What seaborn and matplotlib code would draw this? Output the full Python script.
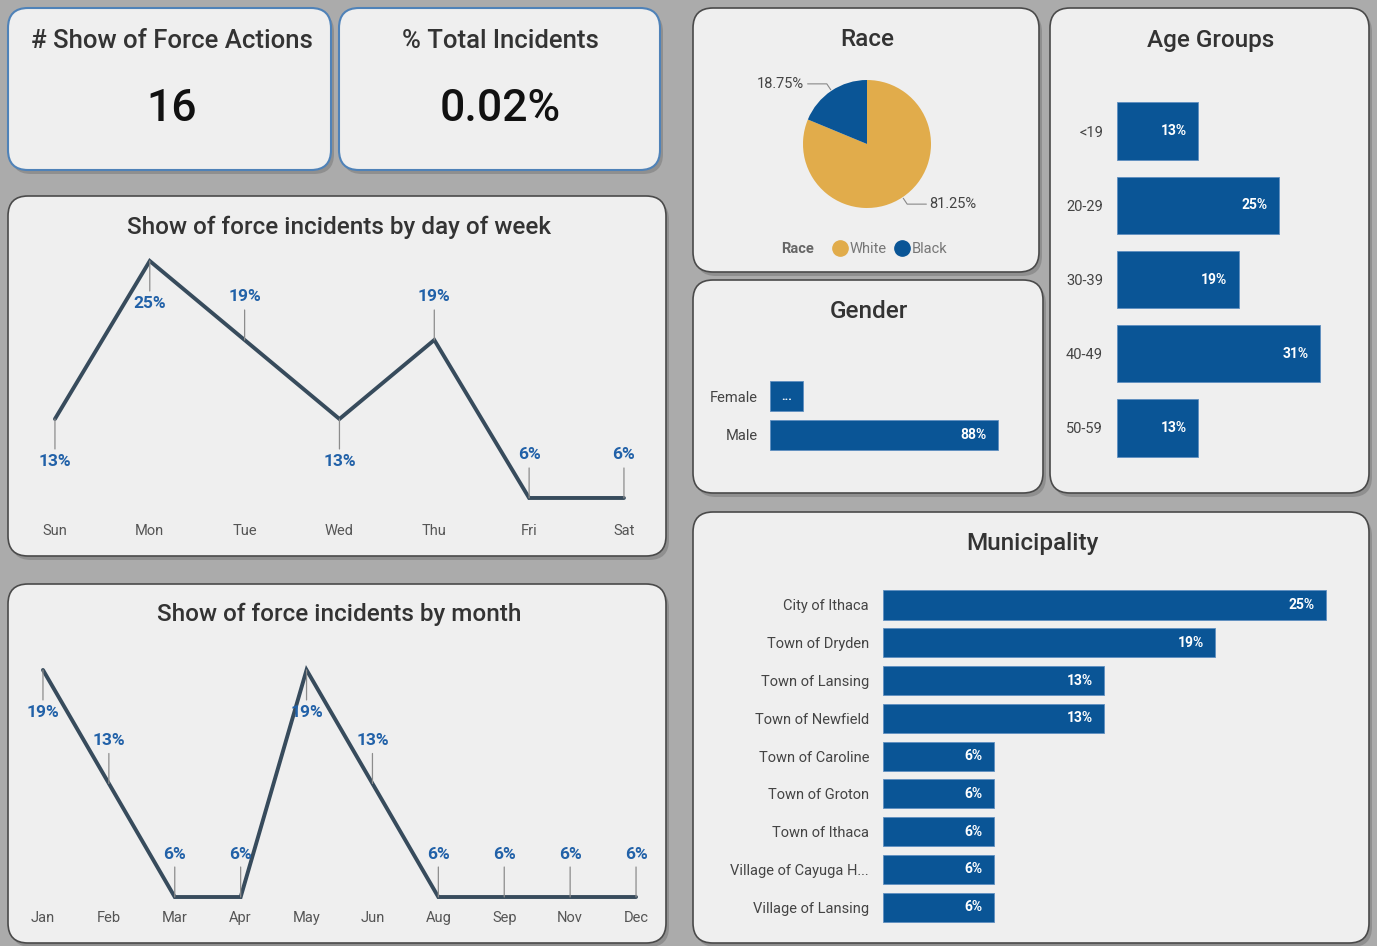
import numpy as np
import pandas as pd
import matplotlib
matplotlib.use("Agg")
import matplotlib.pyplot as plt
import seaborn as sns
from matplotlib.patches import FancyBboxPatch
from matplotlib.lines import Line2D

# ---- data (counts of show of force actions, 16 in total) ----
total_actions = 16
pct_total_incidents = "0.02%"

days = ["Sun", "Mon", "Tue", "Wed", "Thu", "Fri", "Sat"]
day_counts = [2, 4, 3, 2, 3, 1, 1]
day_label_side = ["below", "below", "above", "below", "above", "above", "above"]

months = ["Jan", "Feb", "Mar", "Apr", "May", "Jun", "Aug", "Sep", "Nov", "Dec"]
month_counts = [3, 2, 1, 1, 3, 2, 1, 1, 1, 1]
month_label_side = ["below", "above", "above", "above", "below",
                    "above", "above", "above", "above", "above"]

race = ["White", "Black"]
race_counts = [13, 3]

genders = ["Female", "Male"]
gender_counts = [2, 14]

age_groups = ["<19", "20-29", "30-39", "40-49", "50-59"]
age_counts = [2, 4, 3, 5, 2]

municipalities = ["City of Ithaca", "Town of Dryden", "Town of Lansing",
                  "Town of Newfield", "Town of Caroline", "Town of Groton",
                  "Town of Ithaca", "Village of Cayuga H...", "Village of Lansing"]
muni_counts = [4, 3, 2, 2, 1, 1, 1, 1, 1]

# ---- style ----
BG = "#ababab"
PANEL = "#efefef"
NAVY = "#0a5596"
GOLD = "#e1ac4b"
LINE = "#374b5c"
LBLUE = "#2161a8"
TITLE = "#333333"
TICK = "#555555"

sns.set_theme(style="white")
plt.rcParams["font.family"] = ["Roboto", "DejaVu Sans"]

W, H = 1377, 946
fig = plt.figure(figsize=(W / 100, H / 100), dpi=100)
fig.patch.set_facecolor(BG)


def rect(x0, y0, x1, y1):
    return [x0 / W, 1 - y1 / H, (x1 - x0) / W, (y1 - y0) / H]


def pct_of(counts):
    c = np.array(counts, dtype=float)
    return c / c.sum() * 100


def fmt(v):
    return "{}%".format(int(np.floor(v + 0.5)))


bg = fig.add_axes([0, 0, 1, 1])
bg.set_xlim(0, W)
bg.set_ylim(H, 0)
bg.axis("off")


def panel(x0, y0, x1, y1, edge="#4a4a4a", lw=1.2):
    bg.add_patch(FancyBboxPatch((x0 + 3, y0 + 4), x1 - x0, y1 - y0,
                                boxstyle="round,pad=0,rounding_size=20",
                                fc="#6e6e6e", ec="none", alpha=0.45))
    bg.add_patch(FancyBboxPatch((x0, y0), x1 - x0, y1 - y0,
                                boxstyle="round,pad=0,rounding_size=20",
                                fc=PANEL, ec=edge, lw=lw))


def title(x, y, s):
    bg.text(x, y, s, ha="center", va="center", fontsize=17.5, color=TITLE, fontweight="medium")


# panels
panel(8, 8, 331, 170, edge="#4f82b8", lw=1.5)
panel(339, 8, 660, 170, edge="#4f82b8", lw=1.5)
panel(8, 196, 666, 556)
panel(8, 584, 666, 943)
panel(693, 8, 1039, 272)
panel(693, 280, 1043, 493)
panel(1050, 8, 1369, 493)
panel(693, 512, 1369, 943)

# KPI cards
bg.text(172, 41, "# Show of Force Actions", ha="center", va="center", fontsize=18.5,
        color=TITLE, fontweight="medium")
bg.text(172, 109, str(total_actions), ha="center", va="center", fontsize=32,
        color="#111111", fontweight="medium")
bg.text(500, 41, "% Total Incidents", ha="center", va="center", fontsize=18.5,
        color=TITLE, fontweight="medium")
bg.text(500, 109, pct_total_incidents, ha="center", va="center", fontsize=32,
        color="#111111", fontweight="medium")

# titles
title(339, 227, "Show of force incidents by day of week")
title(339, 614, "Show of force incidents by month")
title(867, 40, "Race")
title(869, 311, "Gender")
title(1211, 40, "Age Groups")
title(1032, 543, "Municipality")


def line_panel(ax, cats, counts, sides, ylim):
    pct = pct_of(counts)
    df = pd.DataFrame({"cat": cats, "pct": pct})
    sns.lineplot(data=df, x="cat", y="pct", sort=False, color=LINE, lw=2.8,
                 solid_joinstyle="miter", ax=ax)
    for i, (v, s) in enumerate(zip(pct, sides)):
        d = 1 if s == "above" else -1
        ax.annotate("", xy=(i, v), xytext=(0, d * 30), textcoords="offset pixels",
                    arrowprops=dict(arrowstyle="-", color="#8c8c8c", lw=0.9,
                                    shrinkA=0, shrinkB=0))
        ax.annotate(fmt(v), xy=(i, v), xytext=(0, d * 43), textcoords="offset pixels",
                    ha="center", va="center", color=LBLUE, fontsize=12.5, fontweight="bold")
    ax.set_xlim(-0.3, len(cats) - 1 + 0.3)
    ax.set_ylim(*ylim)
    ax.set_facecolor("none")
    ax.set_yticks([])
    ax.set_xlabel("")
    ax.set_ylabel("")
    ax.tick_params(axis="x", length=0, pad=3, labelsize=10.5, labelcolor=TICK)
    sns.despine(ax=ax, left=True, bottom=True)


ax_day = fig.add_axes(rect(26.5, 235.7, 652.4, 520.1))
line_panel(ax_day, days, day_counts, day_label_side, (4.5, 27))

ax_mon = fig.add_axes(rect(23.2, 629.1, 655.8, 907))
line_panel(ax_mon, months, month_counts, month_label_side, (5.7, 21))


def bar_panel(ax, cats, counts, xmax, width, label_fs=10):
    pct = pct_of(counts)
    sns.barplot(x=pct, y=cats, orient="h", color=NAVY, saturation=1, width=width,
                edgecolor="#5f8fc0", linewidth=0.6, ax=ax)
    for i, v in enumerate(pct):
        ax.annotate(fmt(v), xy=(v, i), xytext=(-11, 0), textcoords="offset pixels",
                    ha="right", va="center", color="white", fontsize=label_fs,
                    fontweight="bold")
    ax.set_xlim(0, xmax)
    ax.set_ylim(len(cats) - 0.5, -0.5)
    ax.set_facecolor("none")
    ax.set_xticks([])
    ax.set_xlabel("")
    ax.set_ylabel("")
    ax.tick_params(axis="y", length=0, pad=10, labelsize=10.5, labelcolor="#444444")
    sns.despine(ax=ax, left=True, bottom=True)


# gender
ax_gen = fig.add_axes(rect(770, 376.5, 1030, 454.5))
gpct = pct_of(gender_counts)
sns.barplot(x=gpct, y=genders, orient="h", color=NAVY, saturation=1, width=0.77,
            edgecolor="#5f8fc0", linewidth=0.6, ax=ax_gen)
ax_gen.annotate("...", xy=(gpct[0] / 2, 0), ha="center", va="center",
                color="white", fontsize=9, fontweight="bold")
ax_gen.annotate(fmt(gpct[1]), xy=(gpct[1], 1), xytext=(-11, 0), textcoords="offset pixels",
                ha="right", va="center", color="white", fontsize=10, fontweight="bold")
ax_gen.set_xlim(0, 100)
ax_gen.set_ylim(1.5, -0.5)
ax_gen.set_facecolor("none")
ax_gen.set_xticks([])
ax_gen.set_xlabel("")
ax_gen.set_ylabel("")
ax_gen.tick_params(axis="y", length=0, pad=9, labelsize=10.5, labelcolor="#444444")
sns.despine(ax=ax_gen, left=True, bottom=True)

# age groups
ax_age = fig.add_axes(rect(1117, 93.9, 1343.8, 465.1))
bar_panel(ax_age, age_groups, age_counts, 35, 0.77)

# municipality
ax_mun = fig.add_axes(rect(883, 586.1, 1361, 926))
bar_panel(ax_mun, municipalities, muni_counts, 27, 0.77)

# race pie
ax_pie = fig.add_axes(rect(767, 44, 967, 244))
wedges, _ = ax_pie.pie(race_counts, colors=[GOLD, NAVY], startangle=90,
                       counterclock=False, radius=1, wedgeprops=dict(linewidth=0))
rpct = pct_of(race_counts)
for w, v in zip(wedges, rpct):
    th = np.deg2rad((w.theta1 + w.theta2) / 2)
    p1 = np.array([np.cos(th), np.sin(th)])
    p2 = p1 * 1.13
    s = 1 if p1[0] >= 0 else -1
    p3 = p2 + np.array([s * 0.3, 0])
    ax_pie.plot([p1[0] * 1.02, p2[0], p3[0]], [p1[1] * 1.02, p2[1], p3[1]],
                color="#888888", lw=0.8)
    ax_pie.text(p3[0] + s * 0.05, p3[1], "{:.2f}%".format(v),
                ha="left" if s > 0 else "right", va="center", fontsize=10.5, color="#444444")
ax_pie.set_xlim(-100 / 64, 100 / 64)
ax_pie.set_ylim(-100 / 64, 100 / 64)
ax_pie.set_aspect("equal")
ax_pie.axis("off")

bg.text(798, 249, "Race", ha="center", va="center", fontsize=10.5, fontweight="bold", color="#666666")
handles = [Line2D([], [], marker="o", ls="", ms=11, color=c) for c in [GOLD, NAVY]]
ax_pie.legend(handles, race, ncol=2, frameon=False, loc="center",
              bbox_to_anchor=(890 / W, 1 - 249 / H), bbox_transform=fig.transFigure,
              handletextpad=0.2, columnspacing=0.5, handlelength=1.0,
              prop={"size": 10.5}, labelcolor="#777777")

fig.savefig("out.png", dpi=100, facecolor=BG)
